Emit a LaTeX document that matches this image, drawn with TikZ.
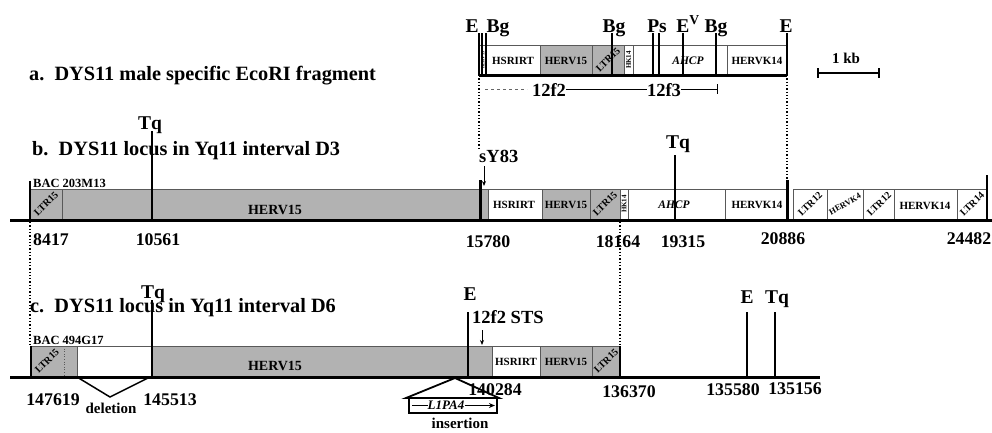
\documentclass[tikz,border=0pt]{standalone}
\usepackage{fontspec}
\setmainfont{Liberation Serif}
\usetikzlibrary{arrows.meta}
\begin{document}
\begin{tikzpicture}[x=1pt,y=-1pt,
  seg/.style={draw=black!65, line width=0.5pt},
  grayseg/.style={seg, fill=black!30},
  base/.style={line width=3pt},
  siteline/.style={line width=1.8pt},
  thinsite/.style={line width=1.1pt},
  linkdot/.style={dotted, line width=1.3pt},
  title/.style={font=\fontsize{20.3}{22}\selectfont\bfseries, anchor=base west, inner sep=0pt},
  site/.style={font=\fontsize{19.5}{21}\selectfont\bfseries, anchor=base, inner sep=0pt},
  num/.style={font=\fontsize{17.8}{19}\selectfont\bfseries, anchor=base, inner sep=0pt},
  inlab/.style={font=\fontsize{11}{12}\selectfont\bfseries, inner sep=0pt},
  biglab/.style={font=\fontsize{14}{15}\selectfont\bfseries, inner sep=0pt},
  rotlab/.style={font=\fontsize{10}{11}\selectfont\bfseries, inner sep=0pt, rotate=45},
  vlab/.style={font=\fontsize{7}{7}\selectfont\bfseries, inner sep=0pt, rotate=90},
  small/.style={font=\fontsize{12.5}{13}\selectfont\bfseries, anchor=base west, inner sep=0pt},
  note/.style={font=\fontsize{15}{16}\selectfont\bfseries, anchor=base, inner sep=0pt},
  mid/.style={font=\fontsize{18.5}{20}\selectfont\bfseries, anchor=base, inner sep=0pt},
]
\useasboundingbox (0,0) rectangle (992,432);

%================ a =================
\node[title] (ta) at (29,80) {a.\ \ DYS11 male specific EcoRI fragment};
% segments
\draw[seg] (479,45) rectangle (486,75);
\node[vlab,font=\fontsize{4.5}{5}\selectfont\bfseries] (a0) at (483,60) {HERV15};
\draw[seg] (486,45) rectangle (540,75);
\node[inlab] (a1) at (513,61) {HSRIRT};
\draw[grayseg] (540,45) rectangle (592,75);
\node[inlab] (a2) at (566,61) {HERV15};
\draw[grayseg] (592,45) rectangle (624,75);
\node[rotlab] (a3) at (608,60) {LTR15};
\draw[seg] (624,45) rectangle (633,75);
\node[vlab] (a4) at (628.5,60) {HK14};
\draw[seg] (633,45) rectangle (727,75);
\node[inlab,font=\fontsize{11.5}{12}\selectfont\bfseries\itshape] (a5) at (688,61) {AHCP};
\draw[seg] (727,45) rectangle (787,75);
\node[inlab] (a6) at (757,61) {HERVK14};
\draw[base] (479,75) -- (787,75);
% sites
\draw[siteline] (479,33) -- (479,75);
\draw[thinsite] (482,33) -- (482,75);
\draw[siteline] (486,33) -- (486,75);
\draw[siteline] (612,33) -- (612,75);
\draw[siteline] (653,33) -- (653,75);
\draw[siteline] (659,33) -- (659,75);
\draw[thinsite] (683,33) -- (683,75);
\draw[siteline] (716,33) -- (716,75);
\draw[siteline] (787,33) -- (787,75);
\node[site] (sE1) at (472,32) {E};
\node[site] (sBg1) at (498,32) {Bg};
\node[site] (sBg2) at (614,32) {Bg};
\node[site] (sPs) at (657,32) {Ps};
\node[site] (sEv) at (688,32) {E\textsuperscript{V}};
\node[site] (sBg3) at (716,32) {Bg};
\node[site] (sE2) at (786,32) {E};
% 12f2 / 12f3
\node[mid] (f2) at (549,96) {12f2};
\node[mid] (f3) at (664,96) {12f3};
\draw[black!60, dashed, line width=0.6pt] (485,89) -- (527,89);
\draw[line width=0.7pt] (f2.east |- 0,89) -- (f3.west |- 0,89);
\draw[line width=0.8pt] (f3.east |- 0,89) -- (717,89);
\draw[line width=0.8pt] (717,84) -- (717,94);
% scale bar
\node[site,font=\fontsize{15}{16}\selectfont\bfseries] (kb) at (846,63) {1 kb};
\draw[line width=2.5pt] (818,73) -- (879,73);
\draw[line width=1.2pt] (818,68) -- (818,78);
\draw[line width=1.2pt] (879,68) -- (879,78);

%================ b =================
\node[title] (tb) at (32,155) {b.\ \ DYS11 locus in Yq11 interval D3};
\node[small] (bacb) at (33,187) {BAC 203M13};
\draw[grayseg] (30,189) rectangle (62,220);
\node[rotlab] (b1) at (46,204) {LTR15};
\draw[grayseg] (62,189) rectangle (488,220);
\node[biglab] (b2) at (275,210) {HERV15};
\draw[seg] (488,189) rectangle (542,220);
\node[inlab] (b3) at (514,205) {HSRIRT};
\draw[grayseg] (542,189) rectangle (590,220);
\node[inlab] (b4) at (566,205) {HERV15};
\draw[grayseg] (590,189) rectangle (620,220);
\node[rotlab] (b5) at (605,204) {LTR15};
\draw[seg] (620,189) rectangle (628,220);
\node[vlab] (b6) at (624,204) {HK14};
\draw[seg] (628,189) rectangle (725,220);
\node[inlab,font=\fontsize{11.5}{12}\selectfont\bfseries\itshape] (b7) at (674,205) {AHCP};
\draw[seg] (725,189) rectangle (787,220);
\node[inlab] (b8) at (757,205) {HERVK14};
\draw[seg] (793,189) rectangle (827,220);
\node[rotlab] (b9) at (810,204) {LTR12};
\draw[seg] (827,189) rectangle (863,220);
\node[rotlab,font=\fontsize{8.5}{9}\selectfont\bfseries,rotate=-15] (b10) at (845,204) {HERVK4};
\draw[seg] (863,189) rectangle (894,220);
\node[rotlab] (b11) at (879,204) {LTR12};
\draw[seg] (894,189) rectangle (957,220);
\node[inlab] (b12) at (925,206) {HERVK14};
\draw[seg] (957,189) rectangle (987,220);
\node[rotlab] (b13) at (972,204) {LTR14};
\draw[base] (10,220) -- (992,220);
\draw[siteline] (30,181) -- (30,222);
\draw[siteline] (152,131) -- (152,220);
\draw[line width=3pt] (480,180) -- (480,220);
\draw[siteline] (675,155) -- (675,220);
\draw[line width=3pt] (787,180) -- (787,220);
\draw[line width=2.5pt] (987,175) -- (987,220);
\node[site] (tq1) at (150,129) {Tq};
\node[site] (tq2) at (678,148) {Tq};
\node[mid,anchor=base west] (sy) at (479,162) {sY83};
\draw[line width=0.8pt,-{Stealth[length=5pt,width=4pt]}] (484,166) -- (484,186);
% numbers b
\node[num] (n1) at (51,245) {8417};
\node[num] (n2) at (158,245) {10561};
\node[num] (n3) at (488,247) {15780};
\node[num] (n4) at (618,247) {18164};
\node[num] (n5) at (683,247) {19315};
\node[num] (n6) at (783,244) {20886};
\node[num] (n7) at (969,244) {24482};
% links a -> b
\coordinate (la1) at (479,75);
\coordinate (lb1) at (479,150);
\coordinate (la2) at (787,75);
\coordinate (lb2) at (787,180);
\draw[linkdot] (la1) -- (lb1);
\draw[linkdot] (la2) -- (lb2);

%================ c =================
\node[title] (tc) at (30,312) {c.\ \ DYS11 locus in Yq11 interval D6};
\node[small] (bacc) at (33,344) {BAC 494G17};
\draw[grayseg] (31,346) rectangle (77,377);
\draw[black!65, dotted, line width=0.6pt] (64,346) -- (64,377);
\node[rotlab] (c1) at (47,361) {LTR15};
\draw[seg] (77,346) rectangle (152,377);
\draw[grayseg] (152,346) rectangle (492,377);
\node[biglab] (c2) at (275,366) {HERV15};
\draw[seg] (492,346) rectangle (540,377);
\node[inlab] (c3) at (516,362) {HSRIRT};
\draw[grayseg] (540,346) rectangle (592,377);
\node[inlab] (c4) at (566,362) {HERV15};
\draw[grayseg] (592,346) rectangle (620,377);
\node[rotlab] (c5) at (606,361) {LTR15};
\draw[base] (10,377) -- (820,377);
\draw[siteline] (31,346) -- (31,377);
\draw[siteline] (152,300) -- (152,377);
\draw[siteline] (468,312) -- (468,377);
\draw[line width=2.5pt] (620,346) -- (620,377);
\draw[siteline] (747,312) -- (747,377);
\draw[siteline] (775,312) -- (775,377);
\node[site] (tq3) at (153,298) {Tq};
\node[site] (e3) at (470,300) {E};
\node[site] (e4) at (747,303) {E};
\node[site] (tq4) at (777,303) {Tq};
\node[mid,anchor=base west] (sts) at (472,323) {12f2 STS};
\draw[line width=0.8pt,-{Stealth[length=5pt,width=4pt]}] (482,330) -- (482,345);
% numbers c
\node[num] (m1) at (53,405) {147619};
\node[num] (m2) at (170,405) {145513};
\node[num] (m3) at (495,395) {140284};
\node[num] (m4) at (629,397) {136370};
\node[num] (m5) at (733,395) {135580};
\node[num] (m6) at (795,394) {135156};
% deletion
\coordinate (d1) at (77,377);
\coordinate (d2) at (110,397);
\coordinate (d3) at (150,377);
\draw[line width=1.5pt] (d1) -- (d2) -- (d3);
\node[note] (del) at (111,413) {deletion};
% insertion
\coordinate (i0) at (455,378);
\coordinate (i1) at (406,398);
\coordinate (i2) at (499,398);
\draw[line width=1.8pt, line join=miter] (i1) -- (i0) -- (i2) -- cycle;
\node[draw, line width=1.8pt, minimum width=88pt, minimum height=15pt, inner sep=0pt] (l1) at (453,405.5) {};
\node[font=\fontsize{13}{14}\selectfont\bfseries\itshape, inner sep=0pt] (l1t) at (446,405.5) {L1PA4};
\draw[line width=0.9pt] (l1.west) ++(4,0) -- (l1t.west);
\draw[line width=0.9pt,-{Stealth[length=6pt,width=5pt]}] (l1t.east) -- ([xshift=-3pt]l1.east);
\node[note] (ins) at (460,428) {insertion};
% links b -> c
\coordinate (lc1) at (30,222);
\coordinate (ld1) at (30,346);
\coordinate (lc2) at (620,222);
\coordinate (ld2) at (620,346);
\draw[linkdot] (lc1) -- (ld1);
\draw[linkdot] (lc2) -- (ld2);
\end{tikzpicture}
\end{document}
